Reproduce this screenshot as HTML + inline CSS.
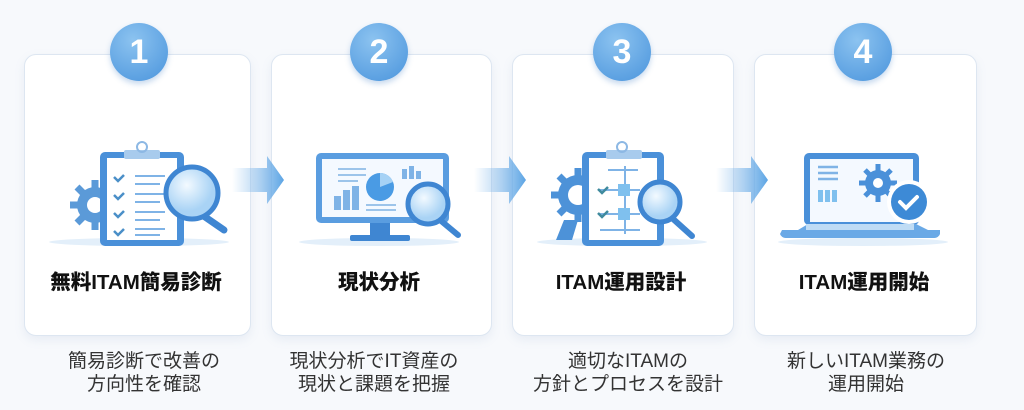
<!DOCTYPE html>
<html><head><meta charset="utf-8"><style>
html,body{margin:0;padding:0;width:1024px;height:410px;background:#f7f9fc;overflow:hidden;font-family:"Liberation Sans","Noto Sans CJK JP",sans-serif}
.card{position:absolute;top:54px;height:280px;background:#fff;border:1px solid #dde6f1;border-radius:12px;box-shadow:0 4px 10px rgba(120,150,190,.12)}
.num{position:absolute;top:23px;width:58px;height:58px;border-radius:50%;background:radial-gradient(circle at 40% 30%,#8cc3f0,#4a94dc);color:#fff;font:bold 34px "Liberation Sans",sans-serif;text-align:center;line-height:58px;box-shadow:0 3px 6px rgba(70,130,200,.3)}
.title{position:absolute;top:265px;font-weight:900;font-size:20.5px;color:#111;text-align:center;width:240px;white-space:nowrap}
.desc{position:absolute;top:350px;font-size:19px;line-height:23px;color:#333;text-align:center;width:260px;white-space:nowrap}
svg{position:absolute;left:0;top:0}
</style></head><body>
<div class="card" style="left:24px;width:225px"></div>
<div class="card" style="left:271px;width:219px"></div>
<div class="card" style="left:512px;width:220px"></div>
<div class="card" style="left:754px;width:221px"></div>
<svg width="1024" height="410">
<defs>
<linearGradient id="ag" x1="0" x2="1"><stop offset="0" stop-color="#7fb8ec" stop-opacity="0"/><stop offset="1" stop-color="#5ca4e4"/></linearGradient>
<radialGradient id="lens" cx=".4" cy=".35"><stop offset="0" stop-color="#f3faff"/><stop offset="1" stop-color="#a9d3f5"/></radialGradient>
</defs>
<g fill="url(#ag)">
<path d="M232 168h35v-12l17 24-17 24v-12h-35z"/>
<path d="M474 168h35v-12l17 24-17 24v-12h-35z"/>
<path d="M716 168h35v-12l17 24-17 24v-12h-35z"/>
</g>
<g>
<ellipse cx="139" cy="242" rx="90" ry="4" fill="#e3effa"/>
<g stroke="#5b9ad8" stroke-width="7"><path d="M95 180v50M70 205h50M77 187l36 36M113 187l-36 36"/></g>
<circle cx="95" cy="205" r="18" fill="#5b9ad8"/><circle cx="95" cy="205" r="8" fill="#fff"/>
<rect x="100" y="152" width="84" height="94" rx="5" fill="#4a90d9"/>
<rect x="107" y="158" width="70" height="82" fill="#fff"/>
<rect x="124" y="150" width="36" height="9" rx="2" fill="#a8cbed"/>
<circle cx="142" cy="147" r="5" fill="none" stroke="#8db8e4" stroke-width="2"/>
<g stroke="#4a8fc8" stroke-width="2.5" fill="none"><path d="M114 177l4 4 6-6M114 195l4 4 6-6M114 213l4 4 6-6M114 231l4 4 6-6"/></g>
<g stroke="#7fb3e6" stroke-width="2"><path d="M135 176h30M135 184h25M135 194h30M135 202h25M135 212h30M135 220h25M135 229h30M135 235h25"/></g>
<line x1="195" y1="210" x2="224" y2="230" stroke="#3f86d2" stroke-width="7" stroke-linecap="round"/>
<circle cx="192" cy="193" r="26" fill="url(#lens)" stroke="#3f86d2" stroke-width="5"/>
</g>
<g>
<ellipse cx="379" cy="242" rx="80" ry="4" fill="#e3effa"/>
<rect x="316" y="153" width="133" height="70" rx="5" fill="#5a9de0"/>
<rect x="322" y="159" width="121" height="58" fill="#f4f9ff"/>
<rect x="370" y="223" width="20" height="12" fill="#3f86d2"/>
<rect x="350" y="235" width="60" height="6" rx="2" fill="#3f86d2"/>
<circle cx="380" cy="187" r="14" fill="#4a9be4"/>
<path d="M380 187v-14a14 14 0 0 1 13 9z" fill="#a6d2f5"/>
<g fill="#7fb3e6"><rect x="334" y="196" width="7" height="14"/><rect x="343" y="190" width="7" height="20"/><rect x="352" y="186" width="7" height="24"/><rect x="402" y="169" width="5" height="10"/><rect x="409" y="166" width="5" height="13"/><rect x="416" y="171" width="5" height="8"/></g>
<g stroke="#9cc4ea" stroke-width="2"><path d="M338 169h28M338 175h28M338 181h20M366 205h30M366 210h30"/></g>
<line x1="440" y1="220" x2="458" y2="235" stroke="#3f86d2" stroke-width="6" stroke-linecap="round"/>
<circle cx="428" cy="204" r="20" fill="url(#lens)" stroke="#3f86d2" stroke-width="5"/>
</g>
<g>
<ellipse cx="622" cy="242" rx="85" ry="4" fill="#e3effa"/>
<g stroke="#4d92d8" stroke-width="7"><path d="M578 168v54M551 195h54M559 176l38 38M597 176l-38 38"/></g>
<circle cx="578" cy="195" r="20" fill="#4d92d8"/><circle cx="578" cy="195" r="10" fill="#fff"/>
<path d="M556 240l8-20h14l-6 20z" fill="#4d92d8"/>
<rect x="582" y="152" width="82" height="94" rx="5" fill="#4a90d9"/>
<rect x="589" y="158" width="68" height="82" fill="#fff"/>
<rect x="606" y="150" width="36" height="9" rx="2" fill="#a8cbed"/>
<circle cx="622" cy="147" r="5" fill="none" stroke="#8db8e4" stroke-width="2"/>
<g stroke="#7fb3e6" stroke-width="2" fill="none"><path d="M608 170h30M625 166v68M600 190h40M600 214h40M600 230h40"/></g>
<rect x="618" y="184" width="12" height="12" fill="#7fc0ee"/><rect x="618" y="208" width="12" height="12" fill="#7fc0ee"/>
<g stroke="#3f8a9e" stroke-width="2.5" fill="none"><path d="M598 189l4 4 6-6M598 213l4 4 6-6"/></g>
<line x1="672" y1="218" x2="692" y2="236" stroke="#3f86d2" stroke-width="6" stroke-linecap="round"/>
<circle cx="660" cy="202" r="20" fill="url(#lens)" stroke="#3f86d2" stroke-width="5"/>
</g>
<g>
<ellipse cx="863" cy="242" rx="85" ry="4" fill="#e3effa"/>
<rect x="804" y="153" width="115" height="72" rx="5" fill="#4a90d9"/>
<rect x="810" y="159" width="103" height="63" fill="#f4f9ff"/>
<path d="M782 230h16l10-6h108l12 6h12v4a6 6 0 0 1-6 4H786a6 6 0 0 1-6-4z" fill="#6aa9e6"/>
<rect x="806" y="224" width="108" height="6" fill="#bfdcf5"/>
<g stroke="#7fb3e6" stroke-width="2.5"><path d="M818 167h20M818 173h20M818 179h20"/></g>
<g fill="#7fc0ee"><rect x="818" y="190" width="5" height="12"/><rect x="825" y="190" width="5" height="12"/><rect x="832" y="190" width="5" height="12"/></g>
<circle cx="878" cy="183" r="13" fill="#4a90d9"/>
<g stroke="#4a90d9" stroke-width="5"><path d="M878 164v38M859 183h38M865 170l26 26M891 170l-26 26"/></g>
<circle cx="878" cy="183" r="5" fill="#fff"/>
<circle cx="909" cy="202" r="22" fill="#fff"/>
<circle cx="909" cy="202" r="18" fill="#3d8ad6"/>
<path d="M900 202l6 6 11-11" stroke="#fff" stroke-width="4" fill="none" stroke-linecap="round"/>
</g>
</svg>
<div class="num" style="left:110px">1</div>
<div class="num" style="left:350px">2</div>
<div class="num" style="left:593px">3</div>
<div class="num" style="left:834px">4</div>
<div class="title" style="left:16px">無料ITAM簡易診断</div>
<div class="title" style="left:259px">現状分析</div>
<div class="title" style="left:501px">ITAM運用設計</div>
<div class="title" style="left:744px">ITAM運用開始</div>
<div class="desc" style="left:14px">簡易診断で改善の<br>方向性を確認</div>
<div class="desc" style="left:244px">現状分析でIT資産の<br>現状と課題を把握</div>
<div class="desc" style="left:498px">適切なITAMの<br>方針とプロセスを設計</div>
<div class="desc" style="left:736px">新しいITAM業務の<br>運用開始</div>
</body></html>
